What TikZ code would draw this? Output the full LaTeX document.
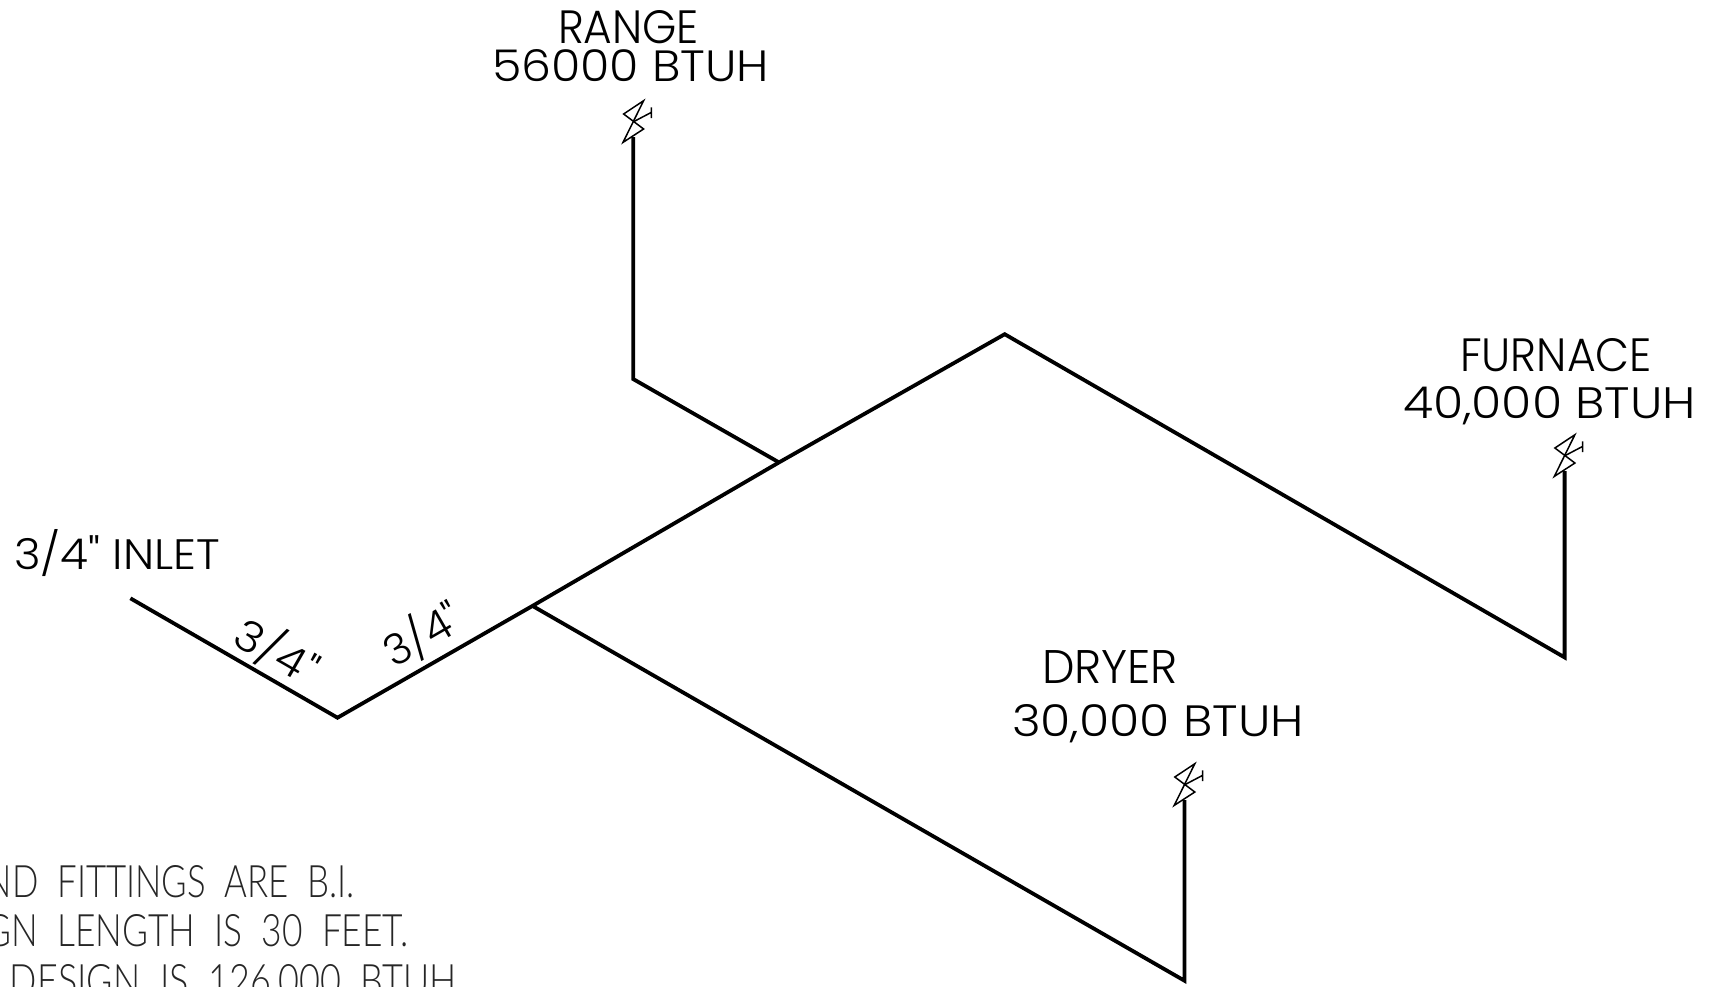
\documentclass[tikz,border=0pt]{standalone}
\usepackage{graphicx}
\usepackage{fontspec}
\newfontfamily\lblfont{Poppins}[UprightFont=* Light]
\newfontfamily\notefont{Lato}[UprightFont=* Light,WordSpace=2]
\newcommand{\fitlab}[3]{\resizebox{\dimexpr#1pt/2\relax}{\dimexpr#2pt/2\relax}{\lblfont #3}}
\newcommand{\fitnote}[2]{\resizebox{\dimexpr#1pt/2\relax}{16pt}{\notefont #2}}
\tikzset{
  pipe/.style={line width=1.9pt,line join=miter,line cap=butt},
  lab/.style={inner sep=0pt,outer sep=0pt,anchor=base west},
  notelab/.style={inner sep=0pt,outer sep=0pt,anchor=base east,text=black!85},
  valve/.pic={
    \draw[line width=0.75pt,line join=miter] (-9.7,-23) -- (10.3,-36.3) -- (-10.3,5.4) -- (10.3,-8) -- cycle;
    \draw[line width=0.75pt] (0.3,-15.3) -- (18,-24.6) (18,-29.6) -- (18,-19);
  }
}
\begin{document}
\begin{tikzpicture}[x=0.5pt,y=-0.5pt]
\useasboundingbox (0,0) rectangle (1718,986);
\clip (0,0) rectangle (1718,986);
\coordinate (inlet) at (130.4,598.3);
\coordinate (elbow) at (337.5,717.7);
\coordinate (teeD) at (532.5,605.9);
\coordinate (teeR) at (779,462.4);
\coordinate (top) at (1004.7,334.2);
\coordinate (furnB) at (1564.6,657.4);
\coordinate (furnT) at (1564.6,471);
\coordinate (rangeB) at (633.3,379.1);
\coordinate (rangeT) at (633.3,137);
\coordinate (dryB) at (1184.5,980.7);
\coordinate (dryT) at (1184.5,800);
\draw[pipe] (inlet) -- (elbow) -- (teeD) -- (teeR) -- (top) -- (furnB) -- (furnT);
\draw[pipe] (teeR) -- (rangeB) -- (rangeT);
\draw[pipe] (teeD) -- (dryB) -- (dryT);
\pic at (rangeT) {valve};
\pic at (furnT) {valve};
\pic at (dryT) {valve};
\node[lab] (l1) at (558,43) {\fitlab{141}{33}{RANGE}};
\node[lab] (l2) at (492,81) {\fitlab{277}{32}{56000 BTUH}};
\node[lab] (l3) at (1460,371) {\fitlab{192}{33}{FURNACE}};
\node[lab] (l4) at (1403,418) {\fitlab{293}{32}{40,000 BTUH}};
\node[lab] (l5) at (1042,683) {\fitlab{136}{33}{DRYER}};
\node[lab] (l6) at (1012,736) {\fitlab{292}{32}{30,000 BTUH}};
\node[lab] (l7) at (14,569) {\fitlab{206}{40}{3/4" INLET}};
\node[inner sep=0pt,rotate=-30] (l8) at (277,651) {\fitlab{88}{40}{3/4"}};
\node[inner sep=0pt,rotate=30] (l9) at (422,634) {\fitlab{82}{40}{3/4"}};
\node[notelab] (n1) at (355,897) {\fitnote{392}{AND FITTINGS ARE B.I.}};
\node[notelab] (n2) at (409,946) {\fitnote{499}{DESIGN LENGTH IS 30 FEET.}};
\node[notelab] (n3) at (457,996) {\fitnote{447}{DESIGN IS 126,000 BTUH}};
\end{tikzpicture}
\end{document}
